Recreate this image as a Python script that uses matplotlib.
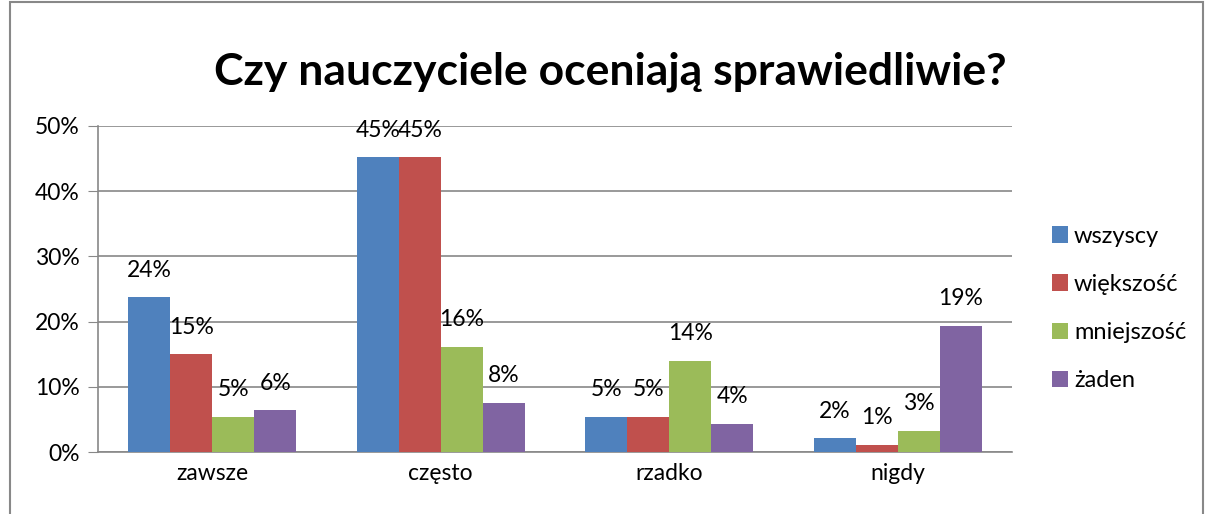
import matplotlib
matplotlib.use("Agg")
import numpy as np
from matplotlib import pyplot as plt
from matplotlib.patches import Rectangle

plt.rcParams['font.family'] = ['Lato', 'DejaVu Sans']

categories = ['zawsze', 'często', 'rzadko', 'nigdy']
series = ['wszyscy', 'większość', 'mniejszość', 'żaden']
wszyscy = [0.237, 0.452, 0.054, 0.021]
wiekszosc = [0.150, 0.452, 0.054, 0.011]
mniejszosc = [0.054, 0.161, 0.140, 0.032]
zaden = [0.064, 0.075, 0.043, 0.193]
colors = ['#4F81BD', '#C0504D', '#9BBB59', '#8064A2']

fig = plt.figure(figsize=(12.07, 5.14), dpi=100)
ax = fig.add_axes([0.0812, 0.1206, 0.7573, 0.6343])

x = np.arange(len(categories))
w = 0.184
data = [wszyscy, wiekszosc, mniejszosc, zaden]
for i, vals in enumerate(data):
    pos = x + (i - 1.5) * w
    bars = ax.bar(pos, vals, w, color=colors[i], label=series[i], zorder=3)
    for b, v in zip(bars, vals):
        ax.annotate('{:.0%}'.format(v), (b.get_x() + b.get_width() / 2, v),
                    xytext=(0, 12), textcoords='offset points',
                    ha='center', va='bottom', fontsize=16.5)

ax.set_xlim(-0.5, 3.5)
ax.set_ylim(0, 0.5)
ax.set_yticks(np.arange(0, 0.51, 0.1))
ax.set_yticklabels(['{:.0%}'.format(t) for t in np.arange(0, 0.51, 0.1)])
ax.set_xticks(x)
ax.set_xticklabels(categories)
ax.tick_params(axis='y', labelsize=16.5, length=7, color='#888888', pad=6)
ax.tick_params(axis='x', labelsize=16.5, length=0, pad=8)
ax.grid(axis='y', color='#888888', linewidth=1.2, zorder=0)
for s in ['top', 'right']:
    ax.spines[s].set_visible(False)
ax.spines['left'].set_color('#888888')
ax.spines['bottom'].set_color('#888888')
ax.spines['left'].set_linewidth(1.2)
ax.spines['bottom'].set_linewidth(1.2)

fig.text(0.506, 0.86, 'Czy nauczyciele oceniają sprawiedliwie?', ha='center', va='center',
         fontsize=32, fontweight='bold')

ax.legend(loc='center left', bbox_to_anchor=(1.02, 0.44), frameon=False, fontsize=17,
          handlelength=0.7, handleheight=0.7, handletextpad=0.25, labelspacing=1.15)

fig.patches.append(Rectangle((10 / 1207, -0.1), 1193 / 1207, 1.096, transform=fig.transFigure,
                             fill=False, edgecolor='#888888', linewidth=1.5))

fig.savefig('out.png', dpi=100)
